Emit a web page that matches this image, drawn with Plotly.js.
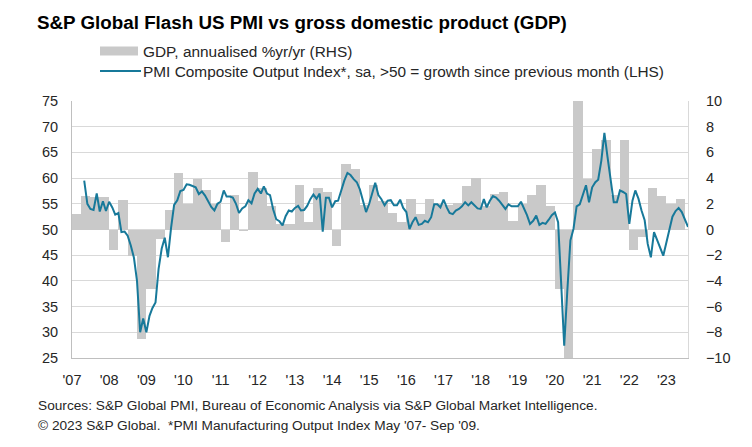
<!DOCTYPE html>
<html>
<head>
<meta charset="utf-8">
<script src="https://cdn.plot.ly/plotly-3.0.1.min.js"></script>
<style>
  html, body { margin: 0; padding: 0; background: #ffffff; }
  #chart { width: 752px; height: 447px; }
</style>
</head>
<body>
<div id="chart"></div>
<script>
// ---------------- DATA ----------------
const chartTitle = "S&P Global Flash US PMI vs gross domestic product (GDP)";
const gdpName = "GDP, annualised %yr/yr (RHS)";
const pmiName = "PMI Composite Output Index*, sa, >50 = growth since previous month (LHS)";
const sourceLine1 = "Sources: S&P Global PMI, Bureau of Economic Analysis via S&P Global Market Intelligence.";
const sourceLine2 = "© 2023 S&P Global.  *PMI Manufacturing Output Index May '07- Sep '09.";

// Monthly PMI, first value = May 2007
const pmiStartYear = 2007;
const pmiStartMonth = 5;
const pmiValues = [
  59.5, 55.0, 54.0, 53.8, 57.0, 53.5, 55.5, 53.6, 55.4, 54.3, 52.9, 53.2, // May07-Apr08
  49.5, 49.6, 48.8, 46.9, 44.5, 40.0, 30.0, 32.7, 30.0, 33.2, 34.7, 35.8, // May08-Apr09
  42.3, 46.3, 48.4, 44.6, 50.3, 54.8, 55.7, 57.5, 57.7, 58.8, 58.7, 58.5, // May09-Apr10
  58.2, 56.9, 57.4, 56.6, 55.6, 54.4, 53.7, 55.0, 55.4, 57.6, 56.4, 56.4, // May10-Apr11
  56.2, 55.0, 53.2, 54.1, 54.5, 55.7, 55.1, 57.0, 57.9, 57.0, 58.4, 57.0, // May11-Apr12
  56.7, 53.9, 52.0, 51.6, 50.8, 52.6, 53.7, 53.5, 54.2, 54.6, 53.7, 53.8, // May12-Apr13
  54.6, 55.9, 56.8, 56.0, 57.0, 49.6, 56.2, 56.2, 54.3, 55.5, 55.6, 57.7, // May13-Apr14
  59.5, 61.0, 60.6, 59.8, 59.2, 57.8, 55.8, 53.4, 55.0, 57.3, 59.1, 56.7, // May14-Apr15
  55.9, 54.7, 55.6, 55.7, 54.7, 54.7, 55.8, 54.2, 53.4, 50.1, 51.4, 52.4, // May15-Apr16
  50.9, 51.1, 51.7, 51.4, 52.4, 54.9, 54.9, 54.3, 55.8, 54.3, 53.2, 53.0, // May16-Apr17
  53.7, 54.0, 54.5, 55.3, 54.7, 55.3, 54.6, 54.1, 54.0, 55.9, 54.3, 55.6, // May17-Apr18
  56.5, 56.2, 55.6, 54.9, 54.0, 54.9, 54.5, 54.5, 54.5, 55.4, 54.3, 52.8, // May18-Apr19
  51.1, 51.7, 52.7, 50.9, 51.3, 51.1, 51.9, 52.8, 53.3, 51.4, 39.9, 27.4, // May19-Apr20
  37.9, 47.9, 50.1, 54.5, 54.9, 56.6, 58.6, 55.3, 58.2, 59.2, 59.7, 63.4, // May20-Apr21
  68.8, 64.1, 59.2, 55.3, 55.3, 57.6, 57.3, 56.9, 51.1, 55.6, 57.6, 56.0, // May21-Apr22
  53.7, 51.8, 47.2, 44.6, 49.5, 47.9, 46.2, 44.9, 47.5, 50.5, 52.5, 53.6, // May22-Apr23
  54.2, 53.4, 52.1, 50.5                                                  // May23-Aug23
];

// Quarterly GDP, first value = Q1 2007
const gdpStartYear = 2007;
const gdpValues = [
  1.2, 2.6, 2.5, 2.5,     // 2007
  -1.6, 2.3, -2.1, -8.5,  // 2008
  -4.6, -0.7, 1.5, 4.4,   // 2009
  2.0, 3.9, 3.1, 2.0,     // 2010
  -1.0, 2.7, -0.15, 4.5,  // 2011
  3.2, 1.8, 0.4, 0.4,     // 2012
  3.5, 0.6, 3.2, 2.9,     // 2013
  -1.3, 5.1, 4.7, 1.9,    // 2014
  3.5, 2.2, 1.3, 0.6,     // 2015
  2.4, 1.2, 2.4, 2.0,     // 2016
  1.9, 2.1, 3.4, 4.0,     // 2017
  1.8, 2.8, 2.9, 0.7,     // 2018
  2.0, 2.7, 3.5, 1.8,     // 2019
  -4.6, -29.9, 35.3, 3.9, // 2020 (Q2/Q3 run off the scale)
  6.3, 7.0, 2.7, 7.0,     // 2021
  -1.6, -0.6, 3.2, 2.6,   // 2022
  2.0, 2.4                // 2023
];

const yearTickLabels = ["'07","'08","'09","'10","'11","'12","'13","'14","'15","'16","'17","'18","'19","'20","'21","'22","'23"];

// ---------------- BUILD ----------------
function dateStr(y, m) {
  while (m > 12) { m -= 12; y += 1; }
  return y + "-" + String(m).padStart(2, "0") + "-01";
}
const pmiDates = pmiValues.map((v, i) => dateStr(pmiStartYear, pmiStartMonth + i));
const gdpDates = gdpValues.map((v, i) => dateStr(gdpStartYear, 1 + 3 * i));
const gdpWidths = gdpValues.map((v, i) => {
  const a = new Date(dateStr(gdpStartYear, 1 + 3 * i) + "T00:00:00Z").getTime();
  const b = new Date(dateStr(gdpStartYear, 4 + 3 * i) + "T00:00:00Z").getTime();
  return b - a;
});
const tickVals = yearTickLabels.map((t, i) => dateStr(2007 + i, 1));

const FONT = "Liberation Sans, Arial, sans-serif";
const TEXT = "#262626";
const BAR = "#c9c9c9";
const LINE = "#17799a";

const traces = [
  {
    type: "bar",
    name: gdpName,
    x: gdpDates,
    y: gdpValues,
    width: gdpWidths,
    offset: 0,
    marker: { color: BAR, line: { width: 0 } },
    yaxis: "y",
    hoverinfo: "x+y"
  },
  {
    type: "scatter",
    mode: "lines",
    name: pmiName,
    x: pmiDates,
    y: pmiValues,
    line: { color: LINE, width: 2 },
    yaxis: "y2",
    hoverinfo: "x+y"
  }
];

// plot box in pixels: left 72, right 688, top 101, bottom 358
const L = 72, R = 688, T = 101, B = 358;
const px = x => (x - L) / (R - L);
const py = y => (B - y) / (B - T);

const layout = {
  width: 752,
  height: 447,
  margin: { l: L, r: 752 - R, t: T, b: 447 - B, pad: 0 },
  paper_bgcolor: "#ffffff",
  plot_bgcolor: "#ffffff",
  showlegend: false,
  bargap: 0,
  font: { family: FONT, size: 14, color: TEXT },
  title: {
    text: "<b>" + chartTitle.replace(/&/g, "&amp;") + "</b>",
    xref: "container", yref: "container",
    x: 37 / 752, xanchor: "left",
    y: 1 - 22 / 447, yanchor: "middle",
    font: { family: FONT, size: 18.8, color: "#000000" }
  },
  xaxis: {
    type: "date",
    range: ["2007-01-01", "2023-08-01"],
    tickmode: "array",
    tickvals: tickVals,
    ticktext: yearTickLabels,
    ticks: "",
    ticklabelstandoff: 9,
    showgrid: false,
    showline: true,
    linecolor: "#bfbfbf",
    linewidth: 1,
    mirror: false,
    zeroline: false,
    tickfont: { family: FONT, size: 14.5, color: TEXT },
    fixedrange: true
  },
  yaxis: {
    side: "right",
    range: [-10, 10],
    tickmode: "linear",
    tick0: -10,
    dtick: 2,
    showgrid: true,
    gridcolor: "#d9d9d9",
    gridwidth: 1,
    zeroline: false,
    showline: true,
    linecolor: "#d9d9d9",
    ticks: "",
    ticklabelstandoff: 14,
    tickfont: { family: FONT, size: 14.5, color: TEXT },
    fixedrange: true
  },
  yaxis2: {
    overlaying: "y",
    side: "left",
    range: [25, 75],
    tickmode: "linear",
    tick0: 25,
    dtick: 5,
    showgrid: false,
    zeroline: false,
    showline: true,
    linecolor: "#bfbfbf",
    ticks: "",
    ticklabelstandoff: 10,
    tickfont: { family: FONT, size: 14.5, color: TEXT },
    fixedrange: true
  },
  shapes: [
    { type: "rect", xref: "paper", yref: "paper",
      x0: px(100), x1: px(138), y0: py(55.5), y1: py(46.5),
      fillcolor: BAR, line: { width: 0 } },
    { type: "line", xref: "paper", yref: "paper",
      x0: px(100), x1: px(141), y0: py(71), y1: py(71),
      line: { color: LINE, width: 2 } }
  ],
  annotations: [
    { xref: "paper", yref: "paper", x: px(141), y: py(51), xanchor: "left", yanchor: "middle",
      text: gdpName, showarrow: false, font: { family: FONT, size: 15.4, color: TEXT } },
    { xref: "paper", yref: "paper", x: px(141), y: py(71), xanchor: "left", yanchor: "middle",
      text: pmiName, showarrow: false, font: { family: FONT, size: 15.4, color: TEXT } },
    { xref: "paper", yref: "paper", x: px(36), y: py(405), xanchor: "left", yanchor: "middle",
      text: sourceLine1.replace(/&/g, "&amp;"), showarrow: false, font: { family: FONT, size: 13.7, color: TEXT } },
    { xref: "paper", yref: "paper", x: px(36), y: py(425), xanchor: "left", yanchor: "middle",
      text: sourceLine2.replace(/&/g, "&amp;"), showarrow: false, font: { family: FONT, size: 13.7, color: TEXT } }
  ]
};

Plotly.newPlot("chart", traces, layout, { displayModeBar: false, staticPlot: true });
</script>
</body>
</html>
